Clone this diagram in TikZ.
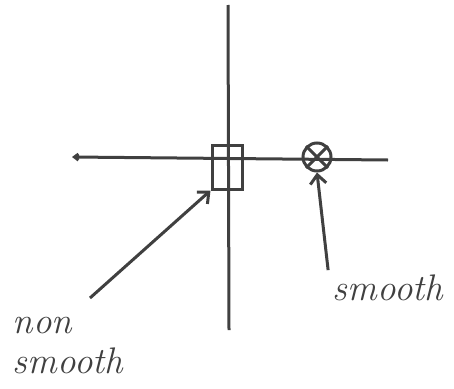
\documentclass[tikz,border=0pt]{standalone}
\usetikzlibrary{positioning,arrows.meta}
\usepackage{amsmath}

\begin{document}
\begin{tikzpicture}[>={Straight Barb[length=9pt,width=16pt]},x=1pt,y=-1pt,color=black!75,line width=3pt,
        marker/.style={draw,line width=3pt,inner sep=0pt}]
        \useasboundingbox (0,0) rectangle (454,388);
        \coordinate (top) at (228,5);
        \coordinate (bot) at (229,330);
        \coordinate (left) at (72,157);
        \coordinate (right) at (388,160);
        \draw (top) -- (bot);
        \draw[-{Straight Barb[length=4pt,width=6pt]}] (right) -- (left);
        \node[marker,minimum width=30pt,minimum height=44pt] (box) at (227,167) {};
        \node[marker,circle,minimum size=28pt] (pt) at (317,157) {};
        \draw (pt.north west) -- (pt.south east);
        \draw (pt.north east) -- (pt.south west);
        \node[font=\fontsize{37}{40}\selectfont\itshape,align=left] (ns) at (68,346) {non\\smooth};
        \node[font=\fontsize{37}{40}\selectfont\itshape] (sm) at (388,288) {smooth};
        \coordinate (nstail) at (90,298);
        \draw[->] (nstail) -- (box.south west);
        \draw[->] (sm.north west) -- (pt.south);
    \end{tikzpicture}
\end{document}
